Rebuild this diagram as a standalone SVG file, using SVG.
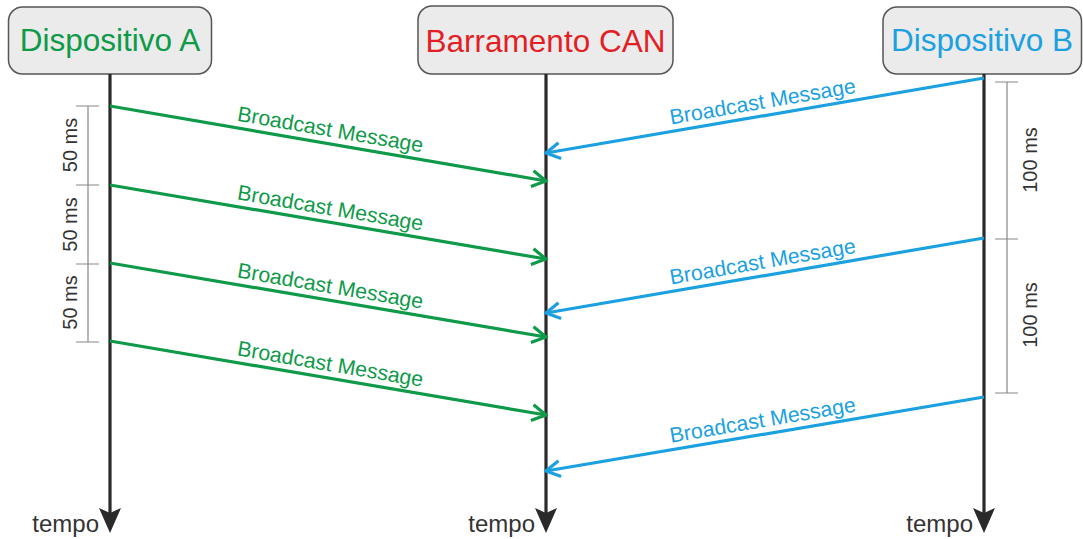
<svg xmlns="http://www.w3.org/2000/svg" width="1083" height="539" viewBox="0 0 1083 539">
<style>
.box{fill:#ebebeb;stroke:#555;stroke-width:1.5}
.title{font-family:"Liberation Sans",Arial,sans-serif;font-size:31.5px;text-anchor:middle}
.life{stroke:#2a2a2a;stroke-width:3.2;fill:none}
.head{fill:#2a2a2a}
.tempo{font-family:"Liberation Sans",Arial,sans-serif;font-size:24px;fill:#333;text-anchor:end}
.g{stroke:#0e9a48;stroke-width:3.2;fill:none}
.b{stroke:#1ba1df;stroke-width:3.2;fill:none}
.gt{font-family:"Liberation Sans",Arial,sans-serif;font-size:21.3px;fill:#0e9a48;text-anchor:middle}
.bt{font-family:"Liberation Sans",Arial,sans-serif;font-size:21.3px;fill:#1ba1df;text-anchor:middle}
.tick{stroke:#888;stroke-width:1.2;fill:none}
.ms{font-family:"Liberation Sans",Arial,sans-serif;font-size:20px;fill:#333;text-anchor:middle}
</style>
<defs>
<marker id="ag" markerUnits="userSpaceOnUse" viewBox="0 0 18 20" refX="16" refY="10" markerWidth="18" markerHeight="20" orient="auto">
<path d="M2,2 L16,10 L2,18" fill="none" stroke="#0e9a48" stroke-width="3.2"/>
</marker>
<marker id="ab" markerUnits="userSpaceOnUse" viewBox="0 0 18 20" refX="16" refY="10" markerWidth="18" markerHeight="20" orient="auto">
<path d="M2,2 L16,10 L2,18" fill="none" stroke="#1ba1df" stroke-width="3.2"/>
</marker>
</defs>

<g id="nodeA">
<rect class="box" x="8.5" y="7" width="203" height="67" rx="14"/>
<text class="title" x="110" y="51" fill="#0e9a48">Dispositivo A</text>
<line class="life" x1="110" y1="74" x2="110" y2="515"/>
<path class="head" d="M99,508 L110,533 L121,508 L110,513 Z"/>
<text class="tempo" x="99" y="532">tempo</text>
</g>

<g id="nodeCAN">
<rect class="box" x="418" y="6" width="255" height="68" rx="14"/>
<text class="title" x="545.5" y="52" fill="#e31e25">Barramento CAN</text>
<line class="life" x1="546" y1="74" x2="546" y2="515"/>
<path class="head" d="M535,508 L546,533 L557,508 L546,513 Z"/>
<text class="tempo" x="535" y="532">tempo</text>
</g>

<g id="nodeB">
<rect class="box" x="883" y="7" width="198.5" height="67" rx="14"/>
<text class="title" x="982" y="51" fill="#1ba1df">Dispositivo B</text>
<line class="life" x1="984" y1="74" x2="984" y2="515"/>
<path class="head" d="M973,508 L984,533 L995,508 L984,513 Z"/>
<text class="tempo" x="973" y="532">tempo</text>
</g>

<g id="timescales">
<path class="tick" d="M88,106 V342 M76,106 H99 M76,185 H99 M76,264 H99 M76,342 H99"/>
<text class="ms" transform="translate(77,145) rotate(-90)">50 ms</text>
<text class="ms" transform="translate(77,224.5) rotate(-90)">50 ms</text>
<text class="ms" transform="translate(77,302.5) rotate(-90)">50 ms</text>
<path class="tick" d="M1007,82 V393 M995,82 H1018 M995,239 H1018 M995,393 H1018"/>
<text class="ms" transform="translate(1037,160) rotate(-90)">100 ms</text>
<text class="ms" transform="translate(1037,315) rotate(-90)">100 ms</text>
</g>

<g id="connectors">
<line class="g" x1="110" y1="106" x2="546" y2="181" marker-end="url(#ag)"/>
<line class="g" x1="110" y1="185" x2="546" y2="259" marker-end="url(#ag)"/>
<line class="g" x1="110" y1="263" x2="546" y2="337" marker-end="url(#ag)"/>
<line class="g" x1="110" y1="341" x2="546" y2="415" marker-end="url(#ag)"/>
<text class="gt" transform="translate(328,143.5) rotate(9.76)" y="-7">Broadcast Message</text>
<text class="gt" transform="translate(328,222) rotate(9.63)" y="-7">Broadcast Message</text>
<text class="gt" transform="translate(328,300) rotate(9.63)" y="-7">Broadcast Message</text>
<text class="gt" transform="translate(328,378) rotate(9.63)" y="-7">Broadcast Message</text>
<line class="b" x1="984" y1="78" x2="546" y2="153" marker-end="url(#ab)"/>
<line class="b" x1="984" y1="238" x2="546" y2="313" marker-end="url(#ab)"/>
<line class="b" x1="984" y1="397" x2="546" y2="471" marker-end="url(#ab)"/>
<text class="bt" transform="translate(765,115.5) rotate(-9.72)" y="-7">Broadcast Message</text>
<text class="bt" transform="translate(765,275.5) rotate(-9.72)" y="-7">Broadcast Message</text>
<text class="bt" transform="translate(765,434) rotate(-9.59)" y="-7">Broadcast Message</text>
</g>
</svg>
